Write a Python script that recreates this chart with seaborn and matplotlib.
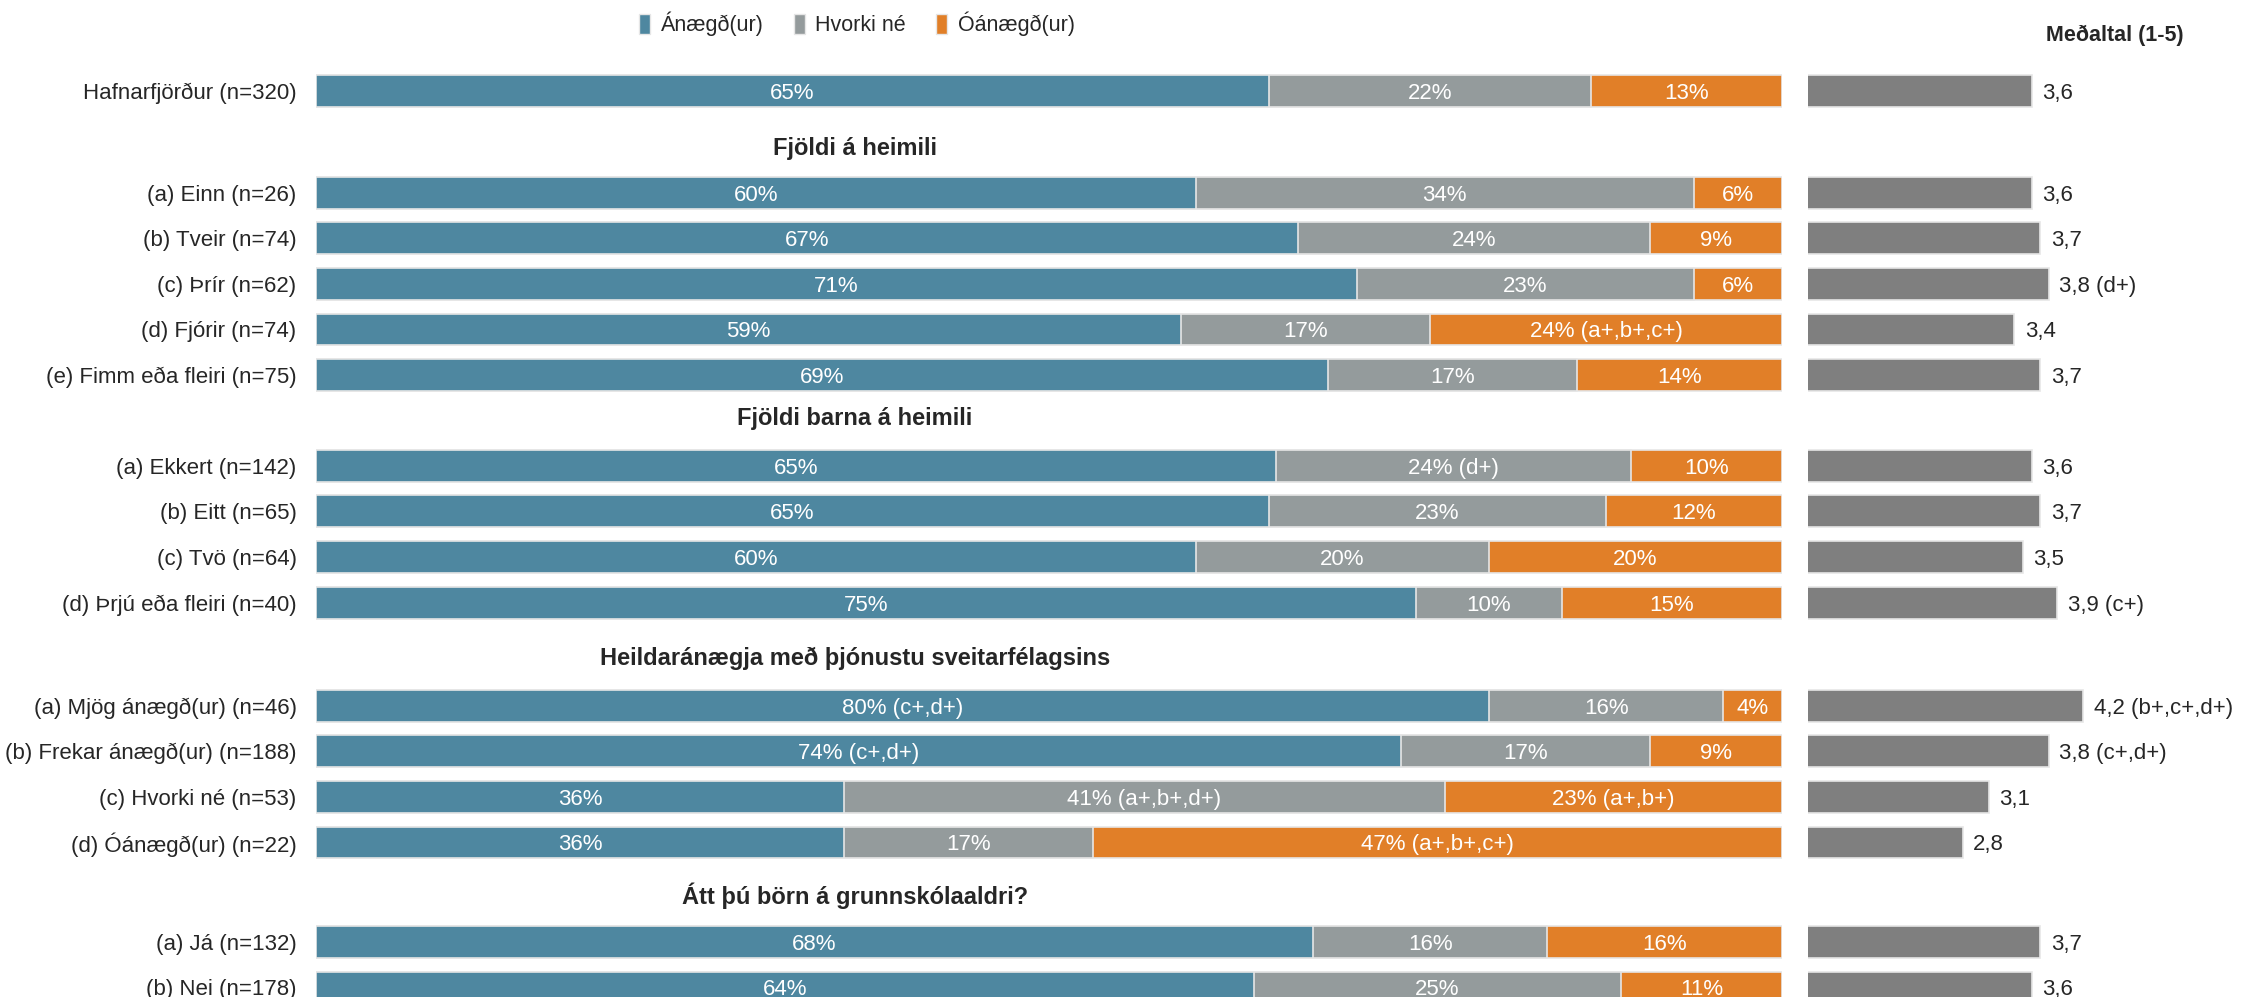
import matplotlib
matplotlib.use("Agg")
import matplotlib.pyplot as plt
import matplotlib.transforms as mtransforms
from matplotlib.patches import Patch
import seaborn as sns

# --- data ---------------------------------------------------------------
headings = ["", "Fjöldi á heimili", "Fjöldi barna á heimili",
            "Heildaránægja með þjónustu sveitarfélagsins",
            "Átt þú börn á grunnskólaaldri?"]

row_labels = ["Hafnarfjörður (n=320)",
              "(a) Einn (n=26)", "(b) Tveir (n=74)", "(c) Þrír (n=62)",
              "(d) Fjórir (n=74)", "(e) Fimm eða fleiri (n=75)",
              "(a) Ekkert (n=142)", "(b) Eitt (n=65)", "(c) Tvö (n=64)",
              "(d) Þrjú eða fleiri (n=40)",
              "(a) Mjög ánægð(ur) (n=46)", "(b) Frekar ánægð(ur) (n=188)",
              "(c) Hvorki né (n=53)", "(d) Óánægð(ur) (n=22)",
              "(a) Já (n=132)", "(b) Nei (n=178)"]
row_group = [0, 1, 1, 1, 1, 1, 2, 2, 2, 2, 3, 3, 3, 3, 4, 4]

anaegd = [65, 60, 67, 71, 59, 69, 65.5, 65, 60, 75, 80, 74, 36, 36, 68, 64]
hvorki = [22, 34, 24, 23, 17, 17, 24.2, 23, 20, 10, 16, 17, 41, 17, 16, 25]
oanaegd = [13, 6, 9, 6, 24, 14, 10.3, 12, 20, 15, 4, 9, 23, 47, 16, 11]

anaegd_txt = ["65%", "60%", "67%", "71%", "59%", "69%", "65%", "65%", "60%",
              "75%", "80% (c+,d+)", "74% (c+,d+)", "36%", "36%", "68%", "64%"]
hvorki_txt = ["22%", "34%", "24%", "23%", "17%", "17%", "24% (d+)", "23%",
              "20%", "10%", "16%", "17%", "41% (a+,b+,d+)", "17%", "16%", "25%"]
oanaegd_txt = ["13%", "6%", "9%", "6%", "24% (a+,b+,c+)", "14%", "10%", "12%",
               "20%", "15%", "4%", "9%", "23% (a+,b+)", "47% (a+,b+,c+)",
               "16%", "11%"]

medaltal = [3.6, 3.6, 3.7, 3.8, 3.4, 3.7, 3.6, 3.7, 3.5, 3.9, 4.2, 3.8, 3.1,
            2.8, 3.7, 3.6]
medaltal_txt = ["3,6", "3,6", "3,7", "3,8 (d+)", "3,4", "3,7", "3,6", "3,7",
                "3,5", "3,9 (c+)", "4,2 (b+,c+,d+)", "3,8 (c+,d+)", "3,1",
                "2,8", "3,7", "3,6"]

# --- layout -------------------------------------------------------------
blue, grey, orange, mgrey = "#4e87a0", "#949b9c", "#e17f28", "#7f7f7f"
edge = "#e6e6e6"
W, H = 2257, 997
group_gap = [0, 2.23, 1.99, 2.26, 2.18]
heading_off = [0, 1.02, 1.09, 1.10, 1.06]

ypos = []
for i, g in enumerate(row_group):
    if i == 0:
        y = 0.0
    elif g != row_group[i - 1]:
        y += group_gap[g]
    else:
        y += 1
    ypos.append(y)

unit = 45.6          # pixels per row
top_px = 91          # pixel centre of first row
ylims = ((H - top_px) / unit, -top_px / unit)

sns.set_style("white")
plt.rcParams["font.family"] = ["Liberation Sans", "DejaVu Sans"]

fig = plt.figure(figsize=(W / 100, H / 100), dpi=100)
ax = fig.add_axes([316 / W, 0, (1782 - 316) / W, 1])
axm = fig.add_axes([1808 / W, 0, (2152 - 1808) / W, 1])

total = [a + h + o for a, h, o in zip(anaegd, hvorki, oanaegd)]
upto_grey = [a + h for a, h in zip(anaegd, hvorki)]
bar_kw = dict(orient="y", native_scale=True, width=0.70, saturation=1,
              edgecolor=edge, linewidth=1.2, errorbar=None)
sns.barplot(x=total, y=ypos, color=orange, ax=ax, **bar_kw)
sns.barplot(x=upto_grey, y=ypos, color=grey, ax=ax, **bar_kw)
sns.barplot(x=anaegd, y=ypos, color=blue, ax=ax, **bar_kw)

for i, y in enumerate(ypos):
    left = 0
    for val, txt in [(anaegd[i], anaegd_txt[i]), (hvorki[i], hvorki_txt[i]),
                     (oanaegd[i], oanaegd_txt[i])]:
        ax.text(left + val / 2, y, txt, ha="center", va="center_baseline",
                color="white", fontsize=16)
        left += val

ax.set_xlim(0, total[0])
ax.set_ylim(*ylims)
ax.set_yticks(ypos)
ax.set_yticklabels(row_labels, fontsize=16)
ax.tick_params(axis="y", length=0, pad=14)
ax.set_xticks([])
ax.set_xlabel("")
ax.set_ylabel("")
sns.despine(ax=ax, left=True, bottom=True)

# mean bars (scale 1-5)
sns.barplot(x=medaltal, y=ypos, color=mgrey, ax=axm, **bar_kw)
for m, y, txt in zip(medaltal, ypos, medaltal_txt):
    axm.annotate(txt, (m, y), xytext=(7.5, 0), textcoords="offset points",
                 ha="left", va="center_baseline", fontsize=16,
                 annotation_clip=False)
axm.set_xlim(1, 5)
axm.set_ylim(*ylims)
axm.set_xticks([])
axm.set_yticks([])
axm.set_xlabel("")
axm.set_ylabel("")
sns.despine(ax=axm, left=True, bottom=True)

# group headings
trans = mtransforms.blended_transform_factory(fig.transFigure, ax.transData)
for g, txt in enumerate(headings):
    if not txt:
        continue
    first = ypos[row_group.index(g)]
    ax.text(855 / W, first - heading_off[g], txt, transform=trans,
            ha="center", va="center_baseline", fontsize=17,
            fontweight="bold")

fig.text(2115 / W, 1 - 35 / H, "Meðaltal (1-5)", ha="center", va="center",
         fontsize=15.5, fontweight="bold")

handles = [Patch(facecolor=blue, edgecolor=edge, label="Ánægð(ur)"),
           Patch(facecolor=grey, edgecolor=edge, label="Hvorki né"),
           Patch(facecolor=orange, edgecolor=edge, label="Óánægð(ur)")]
fig.legend(handles=handles, loc="center", bbox_to_anchor=(857 / W, 1 - 24 / H),
           ncol=3, frameon=False, fontsize=15.5, handlelength=0.5,
           handleheight=1.1, handletextpad=0.5, columnspacing=1.4)

fig.savefig("out.png", dpi=100)
